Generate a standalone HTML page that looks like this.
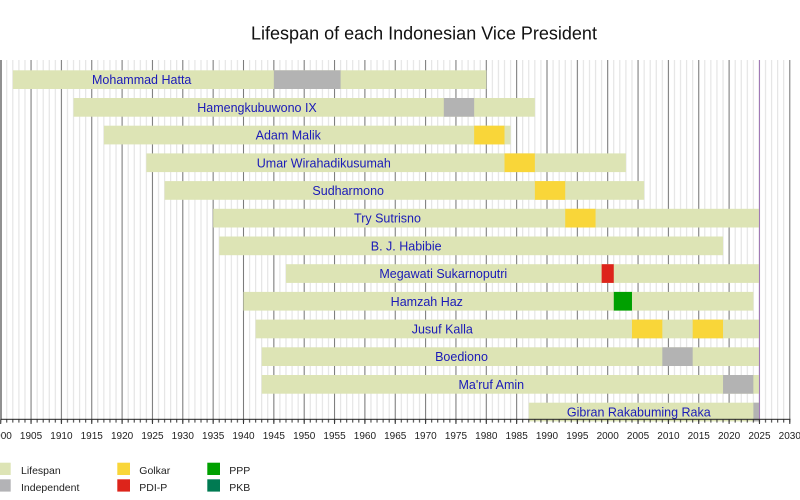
<!DOCTYPE html>
<html>
<head>
<meta charset="utf-8">
<style>
html,body{margin:0;padding:0;background:#fff;}
svg{display:block;}
text{font-family:"Liberation Sans",Arial,sans-serif;}
</style>
</head>
<body>
<svg width="800" height="500" viewBox="0 0 800 500" xmlns="http://www.w3.org/2000/svg">
<defs>
<pattern id="minor" patternUnits="userSpaceOnUse" x="-2.3" y="0" width="6.07" height="500">
<rect x="2.5" y="0" width="1" height="500" fill="#e0e0e0"/>
</pattern>
<pattern id="major" patternUnits="userSpaceOnUse" x="-2.3" y="0" width="30.35" height="500">
<rect x="2.5" y="0" width="1" height="500" fill="#7a7a7a"/>
</pattern>
<pattern id="tickminor" patternUnits="userSpaceOnUse" x="-2.3" y="0" width="6.07" height="500">
<rect x="2.5" y="0" width="1" height="500" fill="#333"/>
</pattern>
</defs>
<rect width="800" height="500" fill="#fff"/>
<text x="424" y="39.5" font-size="18" text-anchor="middle" fill="#111">Lifespan of each Indonesian Vice President</text>

<!-- grid -->
<rect x="1" y="60" width="790" height="359.3" fill="url(#minor)"/>
<rect x="1" y="60" width="790" height="359.3" fill="url(#major)"/>

<!-- bars -->
<g fill="#dde4b5">
<rect x="12.84" y="70.3" width="473.46" height="18.7"/>
<rect x="73.54" y="98.0" width="461.32" height="18.7"/>
<rect x="103.89" y="125.7" width="406.69" height="18.7"/>
<rect x="146.38" y="153.4" width="479.53" height="18.7"/>
<rect x="164.59" y="181.1" width="479.53" height="18.7"/>
<rect x="213.15" y="208.8" width="546.3" height="18.7"/>
<rect x="219.22" y="236.5" width="503.81" height="18.7"/>
<rect x="285.99" y="264.2" width="473.46" height="18.7"/>
<rect x="243.5" y="291.9" width="509.88" height="18.7"/>
<rect x="255.64" y="319.6" width="503.81" height="18.7"/>
<rect x="261.71" y="347.3" width="497.74" height="18.7"/>
<rect x="261.71" y="375.0" width="497.74" height="18.7"/>
<rect x="528.79" y="402.7" width="230.66" height="18.7"/>
</g>
<g fill="#b3b3b3">
<rect x="273.85" y="70.3" width="66.77" height="18.7"/>
<rect x="443.81" y="98.0" width="30.35" height="18.7"/>
<rect x="662.33" y="347.3" width="30.35" height="18.7"/>
<rect x="723.03" y="375.0" width="30.35" height="18.7"/>
<rect x="753.38" y="402.7" width="6.07" height="18.7"/>
</g>
<g fill="#f9d639">
<rect x="474.16" y="125.7" width="30.35" height="18.7"/>
<rect x="504.51" y="153.4" width="30.35" height="18.7"/>
<rect x="534.86" y="181.1" width="30.35" height="18.7"/>
<rect x="565.21" y="208.8" width="30.35" height="18.7"/>
<rect x="631.98" y="319.6" width="30.35" height="18.7"/>
<rect x="692.68" y="319.6" width="30.35" height="18.7"/>
</g>
<rect x="601.63" y="264.2" width="12.14" height="18.7" fill="#dd241b"/>
<rect x="613.77" y="291.9" width="18.21" height="18.7" fill="#00a000"/>

<!-- today line -->
<rect x="758.95" y="60" width="1" height="359.3" fill="#a27ab8"/>

<!-- labels -->
<g font-size="12.5" fill="#1a1ab8" text-anchor="middle">
<text x="141.7" y="84.15">Mohammad Hatta</text>
<text x="257" y="111.85">Hamengkubuwono IX</text>
<text x="288.3" y="139.55">Adam Malik</text>
<text x="323.8" y="167.25">Umar Wirahadikusumah</text>
<text x="348.2" y="194.95">Sudharmono</text>
<text x="387.5" y="222.65">Try Sutrisno</text>
<text x="406.2" y="250.35">B. J. Habibie</text>
<text x="443.3" y="278.05">Megawati Sukarnoputri</text>
<text x="426.8" y="305.75">Hamzah Haz</text>
<text x="442.3" y="333.45">Jusuf Kalla</text>
<text x="461.5" y="361.15">Boediono</text>
<text x="491.3" y="388.85">Ma'ruf Amin</text>
<text x="638.8" y="416.55">Gibran Rakabuming Raka</text>
</g>

<!-- axes -->
<rect x="0.5" y="60" width="1" height="360" fill="#222"/>
<rect x="0.5" y="418.8" width="790" height="1" fill="#222"/>
<rect x="1" y="419.3" width="790" height="3.3" fill="url(#tickminor)"/>
<g stroke="#333" stroke-width="1">
<path d="M0.7 419.3V424 M31.05 419.3V424 M61.4 419.3V424 M91.75 419.3V424 M122.1 419.3V424 M152.45 419.3V424 M182.8 419.3V424 M213.15 419.3V424 M243.5 419.3V424 M273.85 419.3V424 M304.2 419.3V424 M334.55 419.3V424 M364.9 419.3V424 M395.25 419.3V424 M425.6 419.3V424 M455.95 419.3V424 M486.3 419.3V424 M516.65 419.3V424 M547 419.3V424 M577.35 419.3V424 M607.7 419.3V424 M638.05 419.3V424 M668.4 419.3V424 M698.75 419.3V424 M729.1 419.3V424 M759.45 419.3V424 M789.8 419.3V424"/>
</g>
<g font-size="10" fill="#222" text-anchor="middle">
<text x="0.7" y="439">1900</text>
<text x="31.05" y="439">1905</text>
<text x="61.4" y="439">1910</text>
<text x="91.75" y="439">1915</text>
<text x="122.1" y="439">1920</text>
<text x="152.45" y="439">1925</text>
<text x="182.8" y="439">1930</text>
<text x="213.15" y="439">1935</text>
<text x="243.5" y="439">1940</text>
<text x="273.85" y="439">1945</text>
<text x="304.2" y="439">1950</text>
<text x="334.55" y="439">1955</text>
<text x="364.9" y="439">1960</text>
<text x="395.25" y="439">1965</text>
<text x="425.6" y="439">1970</text>
<text x="455.95" y="439">1975</text>
<text x="486.3" y="439">1980</text>
<text x="516.65" y="439">1985</text>
<text x="547" y="439">1990</text>
<text x="577.35" y="439">1995</text>
<text x="607.7" y="439">2000</text>
<text x="638.05" y="439">2005</text>
<text x="668.4" y="439">2010</text>
<text x="698.75" y="439">2015</text>
<text x="729.1" y="439">2020</text>
<text x="759.45" y="439">2025</text>
<text x="789.8" y="439">2030</text>
</g>

<!-- legend -->
<rect x="0" y="462.7" width="10.7" height="12.3" fill="#dde4b5"/>
<rect x="0" y="479.3" width="10.7" height="12.3" fill="#b3b3b6"/>
<rect x="117.3" y="462.7" width="12.7" height="12.3" fill="#f9d639"/>
<rect x="117.3" y="479.3" width="12.7" height="12.3" fill="#dd241b"/>
<rect x="207.3" y="462.7" width="12.7" height="12.3" fill="#00a000"/>
<rect x="207.3" y="479.3" width="12.7" height="12.3" fill="#007a52"/>
<g font-size="10.5" fill="#222">
<text x="21" y="474">Lifespan</text>
<text x="21" y="491">Independent</text>
<text x="139.3" y="474">Golkar</text>
<text x="139.3" y="491">PDI-P</text>
<text x="229.3" y="474">PPP</text>
<text x="229.3" y="491">PKB</text>
</g>
</svg>
</body>
</html>
